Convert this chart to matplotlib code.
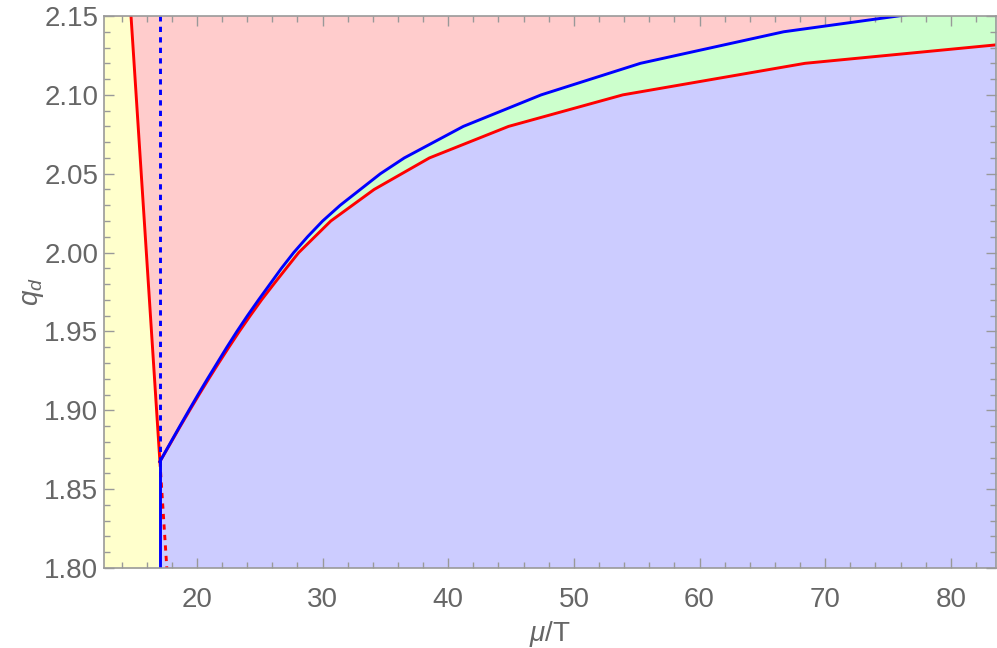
import numpy as np
import matplotlib
matplotlib.use("Agg")
import matplotlib.pyplot as plt
from matplotlib.ticker import MultipleLocator, FormatStrFormatter

plt.rcParams['font.family'] = ['Liberation Sans', 'DejaVu Sans']
plt.rcParams['mathtext.fontset'] = 'custom'
plt.rcParams['mathtext.rm'] = 'Liberation Sans'
plt.rcParams['mathtext.it'] = 'Liberation Sans:italic'

# ---- data ----
# junction point
x_junc = 17.05
q_junc = 1.8675

# blue boundary curve (q, mu/T)
blue_q = [1.8675, 1.88, 1.89, 1.90, 1.91, 1.92, 1.93, 1.94, 1.95, 1.96, 1.97,
          1.98, 1.99, 2.00, 2.01, 2.02, 2.03, 2.04, 2.05, 2.06, 2.08, 2.10,
          2.12, 2.14, 2.16]
blue_x = [17.05, 17.93, 18.64, 19.36, 20.09, 20.84, 21.61, 22.38, 23.18, 24.02, 24.90,
          25.81, 26.72, 27.70, 28.80, 30.00, 31.40, 33.00, 34.60, 36.50, 41.20, 47.40,
          55.30, 66.70, 84.90]

# red boundary curve (q, mu/T)
red_q = [1.8675, 1.88, 1.89, 1.90, 1.91, 1.92, 1.93, 1.94, 1.95, 1.96, 1.97,
         1.98, 1.99, 2.00, 2.02, 2.04, 2.06, 2.08, 2.10, 2.12, 2.14]
red_x = [17.05, 17.96, 18.68, 19.42, 20.17, 20.94, 21.73, 22.54, 23.37, 24.24, 25.14,
         26.11, 27.10, 28.10, 30.65, 34.10, 38.50, 44.80, 53.90, 68.40, 94.40]

# left red line (solid above junction, dashed below)
left_red_x = [14.75, 17.05]
left_red_q = [2.15, 1.8675]
left_red_dash_x = [17.05, 17.60]
left_red_dash_q = [1.8675, 1.80]

xmin, xmax = 12.6, 83.6
ymin, ymax = 1.80, 2.15

c_yellow = '#FFFFCC'
c_pink = '#FFCCCC'
c_green = '#CCFFCC'
c_lav = '#CCCCFF'
c_frame = '#999999'
c_text = '#666666'

fig = plt.figure(figsize=(9.97, 6.48), dpi=100)
ax = fig.add_axes([104/997, 1-568/648, (996-104)/997, (568-16)/648])
ax.set_facecolor(c_pink)

# yellow: left of left boundary
qq = np.linspace(ymin, ymax, 400)
left_bound = np.where(qq >= q_junc,
                      np.interp(qq, left_red_q[::-1], left_red_x[::-1]),
                      x_junc)
ax.fill_betweenx(qq, xmin - 5, left_bound, color=c_yellow, lw=0)

# green: below blue curve, right of junction
xx = np.linspace(x_junc, xmax + 5, 800)
blue_fun = np.interp(xx, blue_x, blue_q)
red_fun = np.interp(xx, red_x, red_q)
ax.fill_between(xx, ymin - 1, blue_fun, color=c_green, lw=0)
# lavender: below red curve
ax.fill_between(xx, ymin - 1, red_fun, color=c_lav, lw=0)

lw = 2.1
dash = (0, (1.8, 1.8))
ax.plot(red_x, red_q, color='#FF0000', lw=lw, zorder=3)
ax.plot(blue_x, blue_q, color='#0000FF', lw=lw, zorder=4)
ax.plot(left_red_x, left_red_q, color='#FF0000', lw=lw, zorder=3)
ax.plot(left_red_dash_x, left_red_dash_q, color='#FF0000', lw=lw,
        ls=dash, zorder=3)
ax.plot([x_junc, x_junc], [ymin, q_junc], color='#0000FF', lw=lw, zorder=4)
ax.plot([x_junc, x_junc], [q_junc, ymax], color='#0000FF', lw=lw,
        ls=dash, zorder=4)

ax.set_xlim(xmin, xmax)
ax.set_ylim(ymin, ymax)

ax.xaxis.set_major_locator(MultipleLocator(10))
ax.xaxis.set_minor_locator(MultipleLocator(2))
ax.yaxis.set_major_locator(MultipleLocator(0.05))
ax.yaxis.set_minor_locator(MultipleLocator(0.01))
ax.yaxis.set_major_formatter(FormatStrFormatter('%.2f'))

ax.tick_params(which='both', direction='in', top=True, right=True,
               color=c_frame, labelcolor=c_text, labelsize=20, width=1)
ax.tick_params(which='major', length=7)
ax.tick_params(which='minor', length=4)
ax.tick_params(axis='x', which='major', pad=14)
ax.tick_params(axis='y', which='major', pad=4)
for s in ax.spines.values():
    s.set_color(c_frame)
    s.set_linewidth(1.2)
    s.set_zorder(5)

ax.set_xlabel(r'$\mu$/T', fontsize=20, color=c_text)
ax.xaxis.set_label_coords(0.5, -0.093)
ax.set_ylabel(r'$q_d$', fontsize=20, color=c_text)
ax.yaxis.set_label_coords(-0.065, 0.5)

fig.savefig('out.png', dpi=100)
